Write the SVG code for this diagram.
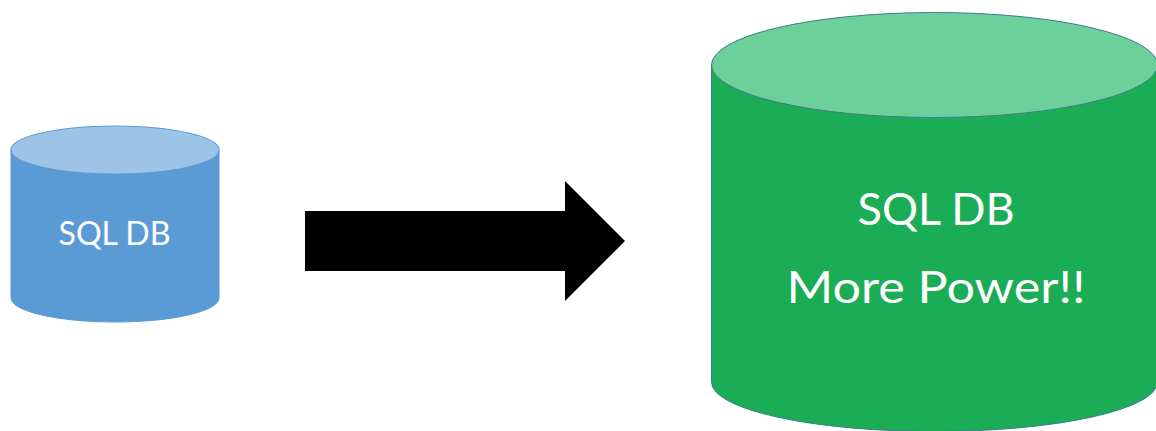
<svg xmlns="http://www.w3.org/2000/svg" width="1156" height="431" viewBox="0 0 1156 431">
<style>
.lbl{font-family:"Lato","Open Sans","Liberation Sans",sans-serif;fill:#fff;text-anchor:middle}
.blue{fill:#5b9bd5;stroke:#5b9bd5;stroke-width:1}
.blue-top{fill:#9dc3e6;stroke:#5b9bd5;stroke-width:1.200}
.green{fill:#1bad55;stroke:#3f7a8e;stroke-width:1}
.green-top{fill:#6dd09b;stroke:#3f7a8e;stroke-width:1}
</style>
<rect width="1156" height="431" fill="#fff"/>
<g id="small-db">
<path class="blue" d="M11 150V298A104 24 0 0 0 219 298V150Z"/>
<ellipse class="blue-top" cx="115" cy="150" rx="104" ry="24"/>
<text class="lbl" x="114.500" y="245" font-size="32" textLength="112" lengthAdjust="spacingAndGlyphs">SQL DB</text>
</g>
<g id="connectors">
<path id="arrow" d="M305 211H565V181L625 241L565 301V271H305Z" fill="#000"/>
</g>
<g id="large-db">
<path class="green" d="M711.500 65V382A223 49.500 0 0 0 1157.500 382V65Z"/>
<ellipse class="green-top" cx="934.500" cy="65" rx="223" ry="52.500"/>
<text class="lbl" x="936" y="225" font-size="45" textLength="157" lengthAdjust="spacingAndGlyphs">SQL DB</text>
<text class="lbl" x="936" y="303" font-size="45" textLength="299" lengthAdjust="spacingAndGlyphs">More Power!!</text>
</g>
</svg>
